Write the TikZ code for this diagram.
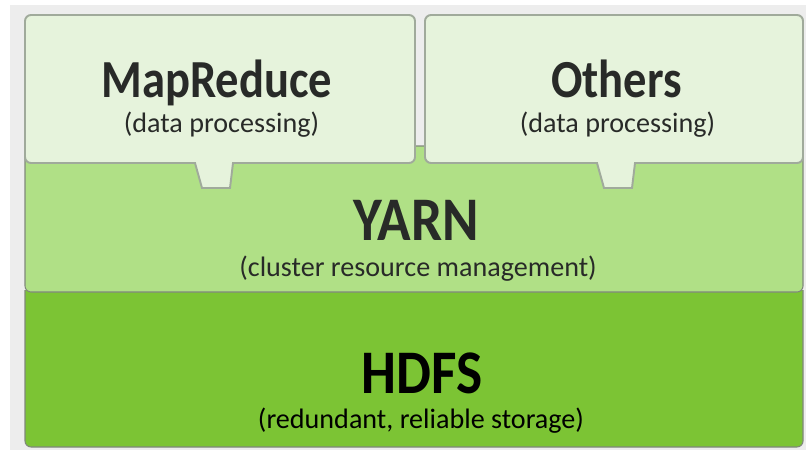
\documentclass[tikz,border=0pt]{standalone}
\usepackage{fontspec}
\setmainfont{Carlito}

\definecolor{bggray}{RGB}{237,237,237}
\definecolor{appfill}{RGB}{230,243,220}
\definecolor{appline}{RGB}{160,170,155}
\definecolor{yarnfill}{RGB}{176,224,134}
\definecolor{hdfsfill}{RGB}{124,196,52}
\definecolor{textdark}{RGB}{40,42,40}

\tikzset{every picture/.style={line width=0.75pt}}
\tikzset{
  appbox/.style={fill=appfill, draw=appline, line width=1.1pt, rounded corners=0.12cm},
  layerbox/.style={draw=appline!80!black, line width=0.6pt, rounded corners=0.12cm},
  bigtitle/.style={anchor=base, text=textdark, yscale=1.15, transform shape,
    font=\fontsize{26.5}{30}\selectfont\bfseries},
  hugetitle/.style={anchor=base, text=textdark, yscale=1.12, transform shape,
    font=\fontsize{31.5}{36}\selectfont\bfseries},
  subtitle/.style={anchor=base, text=textdark, font=\fontsize{16}{19}\selectfont}
}

\begin{document}
\begin{tikzpicture}[scale=1.0]
    \useasboundingbox (0,0) rectangle (16.12,9);
    \fill[white] (0,0) rectangle (16.12,9);
    \fill[bggray] (0.2,0) rectangle (16.12,8.9);
    % HDFS layer
    \draw[layerbox, fill=hdfsfill] (0.5,3.2) -- (0.5,0.06) -- (16.06,0.06) -- (16.06,3.2);
    % YARN layer
    \draw[layerbox, fill=yarnfill] (0.5,3.16) -- (0.5,6.08) -- (16.06,6.08) -- (16.06,3.16) -- cycle;
    % application boxes with tabs
    \draw[appbox] (0.5,8.7) -- (8.3,8.7) -- (8.3,5.74) [sharp corners] -- (4.66,5.74) -- (4.6,5.24)
        -- (4.04,5.24) -- (3.9,5.74) [rounded corners=0.12cm] -- (0.5,5.74) -- cycle;
    \draw[appbox] (8.5,8.7) -- (16.06,8.7) -- (16.06,5.74) [sharp corners] -- (12.7,5.74) -- (12.64,5.24)
        -- (12.08,5.24) -- (11.94,5.74) [rounded corners=0.12cm] -- (8.5,5.74) -- cycle;
    \node[bigtitle] (mr) at (4.34,7.06) {MapReduce};
    \node[subtitle] (mrsub) at (4.43,6.36) {(data processing)};
    \node[bigtitle] (oth) at (12.33,7.06) {Others};
    \node[subtitle] (othsub) at (12.35,6.36) {(data processing)};
    \node[hugetitle] (yarn) at (8.32,4.2) {YARN};
    \node[subtitle] (yarnsub) at (8.36,3.48) {(cluster resource management)};
    \node[hugetitle, text=black] (hdfs) at (8.44,1.14) {HDFS};
    \node[subtitle, text=black] (hdfssub) at (8.42,0.44) {(redundant, reliable storage)};
\end{tikzpicture}
\end{document}
